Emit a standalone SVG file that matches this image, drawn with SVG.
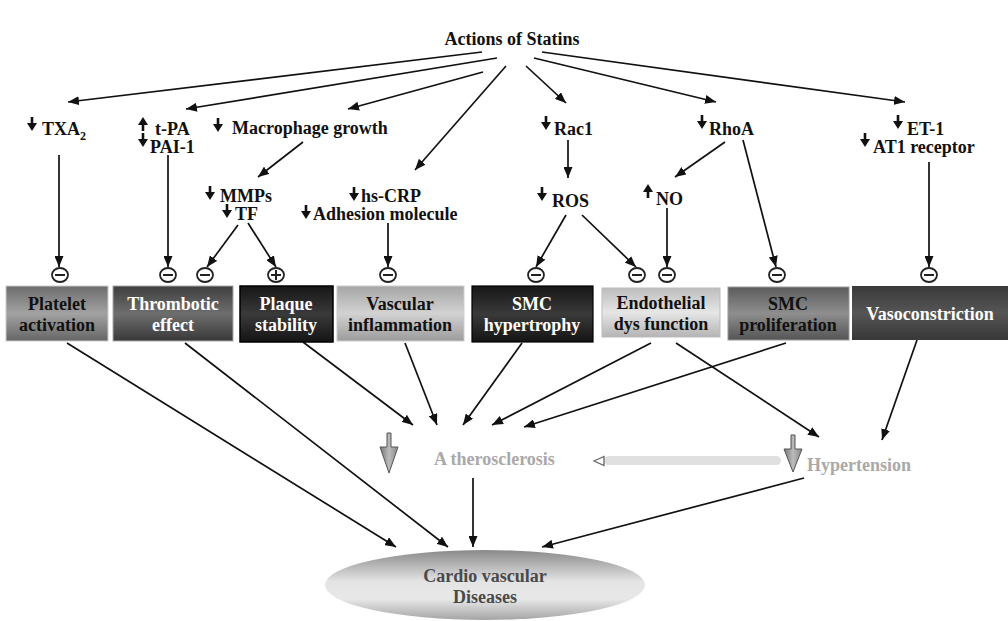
<svg xmlns="http://www.w3.org/2000/svg" width="1008" height="621" viewBox="0 0 1008 621">
<style>
text{font-family:"Liberation Serif","Times New Roman",serif;font-weight:bold;}
.lbl{font-size:18px;fill:#111;}
.bx{font-size:18px;text-anchor:middle;}
.dk{fill:#111;}
.wt{fill:#fff;}
.ln{stroke:#111;stroke-width:1.7;fill:none;marker-end:url(#ah);}
.cir{fill:#fff;stroke:#222;stroke-width:1.8;}
.sg{stroke:#222;stroke-width:2;}
.gry{font-size:18px;fill:#a9a9a9;}
</style>
<defs>
<marker id="ah" markerWidth="11" markerHeight="9" refX="11" refY="4.5" orient="auto" markerUnits="userSpaceOnUse"><path d="M0,0 L11,4.5 L0,9 Z" fill="#111"/></marker>
<path id="dn" d="M-1.3,0 H1.3 V6 H5 L0,14 L-5,6 H-1.3 Z" fill="#111"/>
<path id="up" d="M-1.3,14 H1.3 V8 H5 L0,0 L-5,8 H-1.3 Z" fill="#111"/>
<linearGradient id="g1" x1="0" y1="0" x2="0" y2="1"><stop offset="0" stop-color="#6c6c6c"/><stop offset="0.5" stop-color="#a2a2a2"/><stop offset="1" stop-color="#666"/></linearGradient>
<linearGradient id="g2" x1="0" y1="0" x2="0" y2="1"><stop offset="0" stop-color="#3e3e3e"/><stop offset="0.5" stop-color="#6e6e6e"/><stop offset="1" stop-color="#383838"/></linearGradient>
<linearGradient id="g3" x1="0" y1="0" x2="0" y2="1"><stop offset="0" stop-color="#161616"/><stop offset="0.5" stop-color="#3a3a3a"/><stop offset="1" stop-color="#141414"/></linearGradient>
<linearGradient id="g4" x1="0" y1="0" x2="0" y2="1"><stop offset="0" stop-color="#a6a6a6"/><stop offset="0.5" stop-color="#d2d2d2"/><stop offset="1" stop-color="#9c9c9c"/></linearGradient>
<linearGradient id="g6" x1="0" y1="0" x2="0" y2="1"><stop offset="0" stop-color="#bdbdbd"/><stop offset="0.5" stop-color="#e6e6e6"/><stop offset="1" stop-color="#b4b4b4"/></linearGradient>
<linearGradient id="g7" x1="0" y1="0" x2="0" y2="1"><stop offset="0" stop-color="#5c5c5c"/><stop offset="0.5" stop-color="#8e8e8e"/><stop offset="1" stop-color="#555"/></linearGradient>
<linearGradient id="g8" x1="0" y1="0" x2="0" y2="1"><stop offset="0" stop-color="#3a3a3a"/><stop offset="0.5" stop-color="#555"/><stop offset="1" stop-color="#383838"/></linearGradient>
<linearGradient id="ge" x1="0" y1="0" x2="0" y2="1"><stop offset="0" stop-color="#8a8a8a"/><stop offset="0.45" stop-color="#e4e4e4"/><stop offset="0.7" stop-color="#e8e8e8"/><stop offset="1" stop-color="#a4a4a4"/></linearGradient>
<linearGradient id="gt" x1="0" y1="0" x2="1" y2="0"><stop offset="0" stop-color="#777"/><stop offset="0.5" stop-color="#bbb"/><stop offset="1" stop-color="#888"/></linearGradient>
</defs>
<rect width="1008" height="621" fill="#fff"/>

<g id="title"><text x="512" y="45" text-anchor="middle" style="font-size:18px" fill="#111">Actions of Statins</text></g>

<g id="connectors">
<line class="ln" x1="482" y1="52" x2="68" y2="102"/>
<line class="ln" x1="497" y1="58" x2="186" y2="109"/>
<line class="ln" x1="483" y1="72" x2="348" y2="109"/>
<line class="ln" x1="506" y1="66" x2="415" y2="170"/>
<line class="ln" x1="526" y1="66" x2="566" y2="103"/>
<line class="ln" x1="534" y1="58" x2="716" y2="102"/>
<line class="ln" x1="542" y1="52" x2="905" y2="102"/>
<line class="ln" x1="303" y1="142" x2="258" y2="177"/>
<line class="ln" x1="59" y1="155" x2="59" y2="267"/>
<line class="ln" x1="168" y1="155" x2="168" y2="267"/>
<line class="ln" x1="238" y1="225" x2="207" y2="267"/>
<line class="ln" x1="248" y1="223" x2="276" y2="267"/>
<line class="ln" x1="388" y1="223" x2="388" y2="267"/>
<line class="ln" x1="568" y1="140" x2="568" y2="178"/>
<line class="ln" x1="566" y1="215" x2="536" y2="267"/>
<line class="ln" x1="582" y1="215" x2="636" y2="267"/>
<line class="ln" x1="667" y1="208" x2="667" y2="267"/>
<line class="ln" x1="725" y1="142" x2="675" y2="177"/>
<line class="ln" x1="743" y1="140" x2="776" y2="267"/>
<line class="ln" x1="929" y1="162" x2="929" y2="267"/>
<line class="ln" x1="67" y1="343" x2="396" y2="547"/>
<line class="ln" x1="185" y1="343" x2="448" y2="547"/>
<line class="ln" x1="303" y1="342" x2="413" y2="425"/>
<line class="ln" x1="405" y1="343" x2="437" y2="425"/>
<line class="ln" x1="522" y1="343" x2="463" y2="425"/>
<line class="ln" x1="651" y1="343" x2="492" y2="425"/>
<line class="ln" x1="786" y1="343" x2="524" y2="427"/>
<line class="ln" x1="676" y1="343" x2="819" y2="437"/>
<line class="ln" x1="917" y1="340" x2="882" y2="440"/>
<line class="ln" x1="473" y1="478" x2="473" y2="547"/>
<line class="ln" x1="804" y1="478" x2="542" y2="547"/>
<rect x="604" y="456" width="177" height="9" rx="4.5" fill="#e0e0e0"/>
<polygon points="594,461 604,456.5 604,465.5" fill="#fff" stroke="#666" stroke-width="1.3"/>
</g>

<g id="labels">
<g id="txa2"><use href="#dn" x="32" y="117"/><text class="lbl" x="42" y="135">TXA<tspan font-size="12" dy="5">2</tspan></text></g>
<g id="tpa"><use href="#up" x="143" y="117"/><use href="#dn" x="143" y="133"/><text class="lbl" x="155" y="135">t-PA</text><text class="lbl" x="150" y="153">PAI-1</text></g>
<g id="macrophage"><use href="#dn" x="218" y="118"/><text class="lbl" x="232" y="134">Macrophage growth</text></g>
<g id="mmps"><use href="#dn" x="210" y="186"/><text class="lbl" x="220" y="202">MMPs</text><use href="#dn" x="227" y="204"/><text class="lbl" x="235" y="220">TF</text></g>
<g id="hscrp"><use href="#dn" x="354" y="187"/><text class="lbl" x="361" y="202">hs-CRP</text><use href="#dn" x="306" y="205"/><text class="lbl" x="313" y="220">Adhesion molecule</text></g>
<g id="rac1"><use href="#dn" x="546" y="116"/><text class="lbl" x="554" y="135">Rac1</text></g>
<g id="ros"><use href="#dn" x="542" y="187"/><text class="lbl" x="552" y="207">ROS</text></g>
<g id="no"><use href="#up" x="648" y="184"/><text class="lbl" x="656" y="205">NO</text></g>
<g id="rhoa"><use href="#dn" x="702" y="115"/><text class="lbl" x="709" y="135">RhoA</text></g>
<g id="et1"><use href="#dn" x="898" y="115"/><text class="lbl" x="907" y="135">ET-1</text><use href="#dn" x="865" y="133"/><text class="lbl" x="873" y="153">AT1 receptor</text></g>
</g>

<g id="signs">
<g><ellipse class="cir" cx="60" cy="275" rx="8" ry="7"/><line class="sg" x1="55" y1="275" x2="65" y2="275"/></g>
<g><ellipse class="cir" cx="168" cy="275" rx="8" ry="7"/><line class="sg" x1="163" y1="275" x2="173" y2="275"/></g>
<g><ellipse class="cir" cx="205" cy="275" rx="8" ry="7"/><line class="sg" x1="200" y1="275" x2="210" y2="275"/></g>
<g><ellipse class="cir" cx="276" cy="275" rx="8" ry="7"/><line class="sg" x1="271" y1="275" x2="281" y2="275"/><line class="sg" x1="276" y1="270" x2="276" y2="280"/></g>
<g><ellipse class="cir" cx="388" cy="275" rx="8" ry="7"/><line class="sg" x1="383" y1="275" x2="393" y2="275"/></g>
<g><ellipse class="cir" cx="536" cy="275" rx="8" ry="7"/><line class="sg" x1="531" y1="275" x2="541" y2="275"/></g>
<g><ellipse class="cir" cx="637" cy="275" rx="8" ry="7"/><line class="sg" x1="632" y1="275" x2="642" y2="275"/></g>
<g><ellipse class="cir" cx="667" cy="275" rx="8" ry="7"/><line class="sg" x1="662" y1="275" x2="672" y2="275"/></g>
<g><ellipse class="cir" cx="777" cy="275" rx="8" ry="7"/><line class="sg" x1="772" y1="275" x2="782" y2="275"/></g>
<g><ellipse class="cir" cx="929" cy="275" rx="8" ry="7"/><line class="sg" x1="924" y1="275" x2="934" y2="275"/></g>
</g>

<g id="platelet"><rect x="6" y="286" width="102" height="55" fill="url(#g1)" stroke="#ccc" stroke-width="1"/><text class="bx dk" x="57" y="310">Platelet</text><text class="bx dk" x="57" y="331">activation</text></g>
<g id="thrombotic"><rect x="113" y="286" width="120" height="55" fill="url(#g2)" stroke="#aaa" stroke-width="1"/><text class="bx wt" x="173" y="310">Thrombotic</text><text class="bx wt" x="173" y="331">effect</text></g>
<g id="plaque"><rect x="240" y="286" width="93" height="56" fill="url(#g3)" stroke="#000" stroke-width="1.5"/><text class="bx wt" x="286" y="310">Plaque</text><text class="bx wt" x="286" y="331">stability</text></g>
<g id="vascular"><rect x="337" y="286" width="127" height="55" fill="url(#g4)" stroke="#ccc" stroke-width="1"/><text class="bx dk" x="400" y="310">Vascular</text><text class="bx dk" x="400" y="331">inflammation</text></g>
<g id="smchyp"><rect x="472" y="286" width="121" height="56" fill="url(#g3)" stroke="#000" stroke-width="1.2"/><text class="bx wt" x="532" y="310">SMC</text><text class="bx wt" x="532" y="331">hypertrophy</text></g>
<g id="endothelial"><rect x="602" y="288" width="118" height="49" fill="url(#g6)" stroke="#bbb" stroke-width="1"/><text class="bx dk" x="661" y="309">Endothelial</text><text class="bx dk" x="661" y="330">dys function</text></g>
<g id="smcprolif"><rect x="728" y="287" width="121" height="53" fill="url(#g7)" stroke="#999" stroke-width="1"/><text class="bx dk" x="788" y="310">SMC</text><text class="bx dk" x="788" y="331">proliferation</text></g>
<g id="vasoconstriction"><rect x="852" y="286" width="156" height="54" fill="url(#g8)"/><text class="bx wt" x="930" y="320">Vasoconstriction</text></g>

<g id="atherosclerosis"><path d="M387,433 H391 V447 H398 L389,473 L380,447 H387 Z" fill="url(#gt)" stroke="#555" stroke-width="1"/><text class="gry" x="434" y="465">A therosclerosis</text></g>
<g id="hypertension"><path d="M791,435 H795 V449 H802 L793,472 L784,449 H791 Z" fill="url(#gt)" stroke="#555" stroke-width="1"/><text class="gry" x="807" y="471">Hypertension</text></g>

<g id="cvd"><ellipse cx="485" cy="585" rx="160" ry="35" fill="url(#ge)"/><text class="bx" x="485" y="582" fill="#4a4a4a">Cardio vascular</text><text class="bx" x="485" y="603" fill="#4a4a4a">Diseases</text></g>
</svg>
